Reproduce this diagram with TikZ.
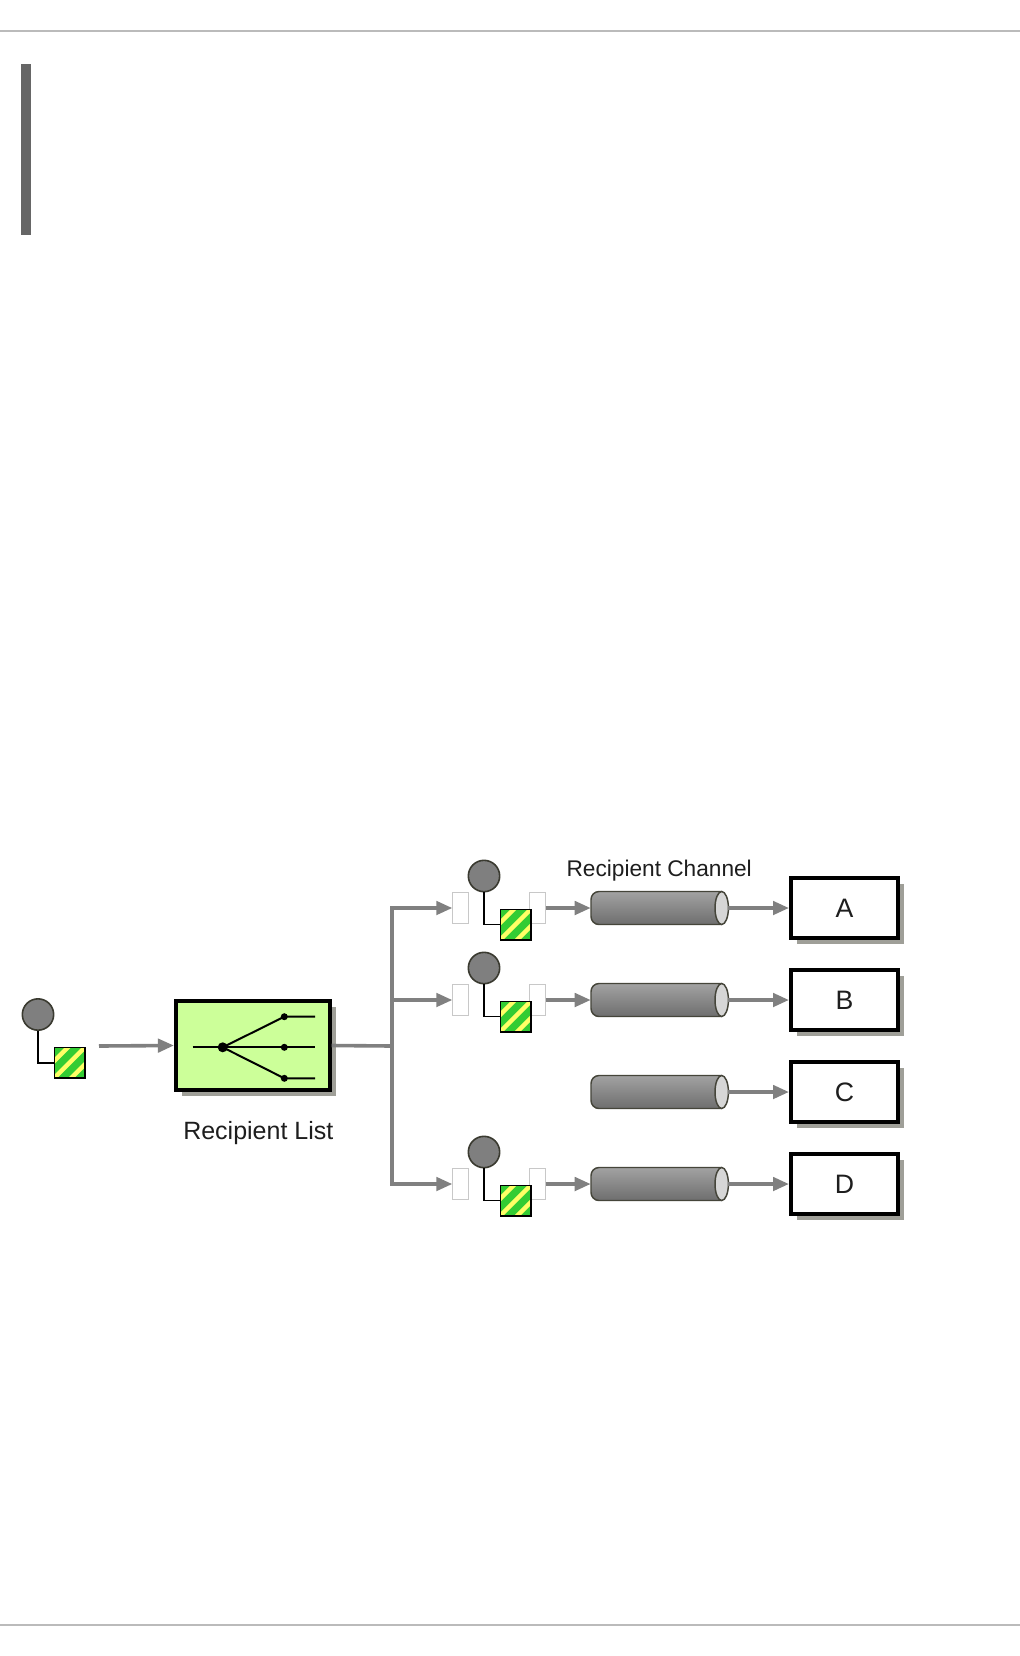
\documentclass[tikz,border=0pt]{standalone}
\usepackage{fontspec}
\setmainfont{Liberation Sans}
\usetikzlibrary{arrows.meta,shadows}
\definecolor{flowgray}{HTML}{808080}
\definecolor{rulegray}{HTML}{BBBBBB}
\definecolor{bargray}{HTML}{666666}
\definecolor{msggreen}{HTML}{33CC33}
\definecolor{msgyellow}{HTML}{FFFF66}
\definecolor{msgcirc}{HTML}{7F7F7F}
\definecolor{msgedge}{HTML}{3A3A30}
\definecolor{rlgreen}{HTML}{CCFF99}
\definecolor{shadowc}{HTML}{9F9F98}
\definecolor{portedge}{HTML}{C8C8C8}
\definecolor{cyltop}{HTML}{A2A2A2}
\definecolor{cylmid}{HTML}{BEBEBE}
\definecolor{cylbot}{HTML}{6E6E6E}
\definecolor{cylend}{HTML}{D6D6D6}
\definecolor{cyledgec}{HTML}{45453A}
\definecolor{textc}{HTML}{1E1E1E}
\begin{document}
\begin{tikzpicture}[x=0.75pt,y=-0.75pt,
  flow/.style={draw=flowgray, line width=2.7pt, -{Triangle[length=12pt,width=10pt]}},
  plainflow/.style={draw=flowgray, line width=2.7pt},
  msgline/.style={draw=black, line width=1.1pt},
  msgcircle/.style={circle, draw=msgedge, fill=msgcirc, line width=1.2pt, minimum size=23.5pt, inner sep=0pt},
  msgsquare/.style={rectangle, draw=black, line width=1.1pt, fill=msggreen, minimum size=22.9pt, inner sep=0pt,
    path picture={\foreach \o in {-17,0,17}{\draw[draw=msgyellow, line width=3.3pt] ([shift={(\o-22,22)}]path picture bounding box.center) -- ++(44,-44);}}},
  portbox/.style={rectangle, draw=portedge, fill=white, line width=0.75pt, minimum width=11.5pt, minimum height=23pt, inner sep=0pt},
  rlbox/.style={rectangle, draw=black, line width=3pt, fill=rlgreen, minimum width=115.3pt, minimum height=66.3pt, inner sep=0pt,
    general shadow={fill=shadowc, shadow xshift=4.5pt, shadow yshift=-4.5pt}},
  targetbox/.style={rectangle, draw=black, line width=3pt, fill=white, minimum width=80.25pt, minimum height=45pt, inner sep=0pt,
    font=\fontsize{20pt}{22pt}\selectfont, text=textc,
    general shadow={fill=shadowc, shadow xshift=4.5pt, shadow yshift=-4.5pt}},
  cylnode/.style={rectangle, minimum width=102.75pt, minimum height=24.75pt, inner sep=0pt},
  cyledge/.style={draw=cyledgec, line width=1.1pt},
  lbl/.style={text=textc, anchor=base, inner sep=0pt}
]
\useasboundingbox (0,0) rectangle (1020,1656);
\fill[white] (0,0) rectangle (1020,1656);

% page rules and side bar
\draw[rulegray, line width=1.3pt] (0,31) -- (1020,31);
\draw[rulegray, line width=1.3pt] (0,1625) -- (1020,1625);
\fill[bargray] (21,64) rectangle (31,235);

% incoming message
\node[msgcircle] (c0) at (38,1014.5) {};
\node[msgsquare] (s0) at (69.5,1062.8) {};
\draw[msgline] (c0.south) |- (s0.west);
\coordinate (m0out) at (99,1046);

% recipient list router
\node[rlbox] (RL) at (252.8,1045.5) {};
\draw[line width=1.5pt] (192.7,1047.3) -- (222.7,1047.3);
\draw[line width=1.5pt] (222.7,1047.3) -- (284.3,1016.7) -- (315,1016.7);
\draw[line width=1.5pt] (222.7,1047.3) -- (284.3,1047.3) -- (315,1047.3);
\draw[line width=1.5pt] (222.7,1047.3) -- (284.3,1078.3) -- (315,1078.3);
\fill (222.7,1047.3) circle[radius=5];
\fill (284.3,1016.7) circle[radius=3.5];
\fill (284.3,1047.3) circle[radius=3.5];
\fill (284.3,1078.3) circle[radius=3.5];
\node[lbl, font=\fontsize{18.75pt}{21pt}\selectfont] (rllabel) at (258.3,1139.3) {Recipient List};

\draw[flow] (m0out) -- (RL.west);
\coordinate (split) at (392,1046);
\draw[plainflow] (RL.east) -- (split);

% channels and targets
\foreach \n/\y in {A/908,B/1000,C/1092,D/1184}{
  \node[cylnode] (cyl\n) at (659.5,\y) {};
  \shade[top color=cyltop, middle color=cylmid, bottom color=cylbot]
    (721.7,\y-16.5) [rounded corners=6pt] -- (591,\y-16.5) -- (591,\y+16.5) [sharp corners] -- (721.7,\y+16.5) -- cycle;
  \draw[cyledge] (721.7,\y-16.5) [rounded corners=6pt] -- (591,\y-16.5) -- (591,\y+16.5) [sharp corners] -- (721.7,\y+16.5);
  \draw[cyledge, fill=cylend] (721.7,\y) ellipse [x radius=6.7, y radius=16.5];
  \node[targetbox] (box\n) at (844.5,\y) {\n};
  \draw[flow] (cyl\n.east) -- (box\n.west);
}

% recipient branches with message, ports
\foreach \n/\y in {A/908,B/1000,D/1184}{
  \node[portbox] (pin\n) at (460.5,\y) {};
  \node[portbox] (pout\n) at (537.5,\y) {};
  \node[msgcircle] (c\n) at (484,\y-32) {};
  \node[msgsquare] (s\n) at (515.5,\y+16.5) {};
  \draw[msgline] (c\n.south) |- (s\n.west);
  \draw[flow] (split) |- (pin\n.west);
  \draw[flow] (pout\n.east) -- (cyl\n.west);
}

\node[lbl, font=\fontsize{17pt}{19pt}\selectfont] (chlabel) at (659.2,876.7) {Recipient Channel};
\end{tikzpicture}
\end{document}
